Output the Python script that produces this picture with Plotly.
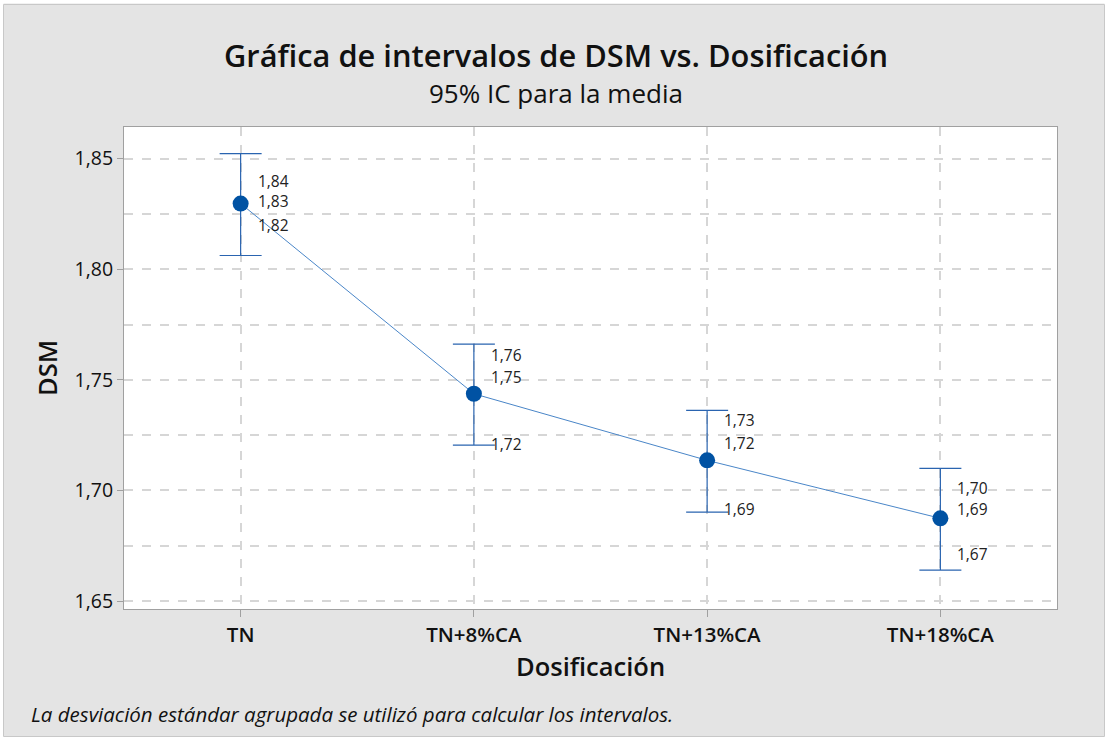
import plotly.graph_objects as go

categories = ["TN", "TN+8%CA", "TN+13%CA", "TN+18%CA"]
means = [1.8297, 1.7437, 1.7136, 1.6874]
upper = [1.8523, 1.7661, 1.7362, 1.7100]
lower = [1.8062, 1.7205, 1.6902, 1.6640]
label_upper = ["1,84", "1,76", "1,73", "1,70"]
label_mean = ["1,83", "1,75", "1,72", "1,69"]
label_lower = ["1,82", "1,72", "1,69", "1,67"]
# vertical offsets (px) of the data labels, as Minitab places them to avoid overlaps
shift_upper = [-27, -11, -10, -20]
shift_mean = [3, 17, 17, 9]
shift_lower = [31, 1, 3, 16]

yticks = [1.65, 1.70, 1.75, 1.80, 1.85]
ytick_text = ["1,65", "1,70", "1,75", "1,80", "1,85"]

FONT = "Open Sans"
W, H = 1108, 740
ML, MR, MT, MB = 124, 51, 127, 131
PW, PH = W - ML - MR, H - MT - MB


def px_x(p):
    return (p - ML) / PW


def px_y(p):
    return (H - MB - p) / PH


x_idx = list(range(len(categories)))

fig = go.Figure()
fig.add_trace(go.Scatter(
    x=x_idx, y=means, mode="lines",
    line=dict(color="#4a86c8", width=1),
    hoverinfo="skip", showlegend=False,
))
fig.add_trace(go.Scatter(
    x=x_idx, y=means, mode="markers",
    marker=dict(color="#0052a3", size=16),
    error_y=dict(type="data", symmetric=False,
                 array=[u - m for u, m in zip(upper, means)],
                 arrayminus=[m - l for m, l in zip(means, lower)],
                 color="#2a64b0", thickness=1.2, width=21),
    showlegend=False,
))

annotations = []
for i in x_idx:
    for val, txt, sh in ((upper[i], label_upper[i], shift_upper[i]),
                         (means[i], label_mean[i], shift_mean[i]),
                         (lower[i], label_lower[i], shift_lower[i])):
        annotations.append(dict(
            x=i, y=val, xref="x", yref="y", text=txt, showarrow=False,
            xanchor="left", yanchor="middle", xshift=15, yshift=sh,
            font=dict(family=FONT, size=15.5, color="#222222"),
        ))

annotations += [
    dict(x=px_x(555.5), y=px_y(55), xref="paper", yref="paper",
         text="Gráfica de intervalos de DSM vs. Dosificación", showarrow=False,
         xanchor="center", yanchor="middle",
         font=dict(family=FONT, size=30.8, color="#111111", weight=600)),
    dict(x=px_x(556), y=px_y(93), xref="paper", yref="paper",
         text="95% IC para la media", showarrow=False,
         xanchor="center", yanchor="middle",
         font=dict(family=FONT, size=26, color="#111111", weight=500)),
    dict(x=px_x(29), y=px_y(714), xref="paper", yref="paper",
         text="<i>La desviación estándar agrupada se utilizó para calcular los intervalos.</i>",
         showarrow=False, xanchor="left", yanchor="middle",
         font=dict(family=FONT, size=20.5, color="#111111")),
    dict(x=px_x(590), y=px_y(666), xref="paper", yref="paper",
         text="Dosificación", showarrow=False,
         xanchor="center", yanchor="middle",
         font=dict(family=FONT, size=25.5, color="#111111", weight=600)),
    dict(x=px_x(47), y=px_y(368), xref="paper", yref="paper",
         text="DSM", showarrow=False, textangle=-90,
         xanchor="center", yanchor="middle",
         font=dict(family=FONT, size=25.5, color="#111111", weight=600)),
]

shapes = [
    dict(type="rect", xref="paper", yref="paper",
         x0=px_x(1.5), x1=px_x(W - 1.5), y0=px_y(H - 1.5), y1=px_y(1.5),
         line=dict(color="#ffffff", width=4), fillcolor="rgba(0,0,0,0)"),
    dict(type="rect", xref="paper", yref="paper",
         x0=px_x(3.5), x1=px_x(W - 3.5), y0=px_y(H - 3.5), y1=px_y(4.5),
         line=dict(color="#c8c8c8", width=1), fillcolor="rgba(0,0,0,0)"),
]

fig.update_layout(
    width=W, height=H,
    margin=dict(l=ML, r=MR, t=MT, b=MB),
    paper_bgcolor="#e4e4e4", plot_bgcolor="#ffffff",
    annotations=annotations, shapes=shapes,
    xaxis=dict(
        range=[-0.5, 3.5], tickmode="array", tickvals=x_idx, ticktext=categories,
        showgrid=True, gridcolor="#d6d6d6", griddash="dash", gridwidth=1.5,
        ticks="outside", ticklen=7, tickcolor="#a0a0a0",
        showline=True, linecolor="#a0a0a0", mirror=True, zeroline=False,
        tickfont=dict(family=FONT, size=20.5, color="#111111", weight=600),
    ),
    yaxis=dict(
        range=[1.6464, 1.8643], tickmode="array", tickvals=yticks, ticktext=ytick_text,
        showgrid=True, gridcolor="#d6d6d6", griddash="dash", gridwidth=1.5,
        minor=dict(dtick=0.025, tick0=1.65, showgrid=True, gridcolor="#d6d6d6",
                   griddash="dash", gridwidth=1.5, ticks=""),
        ticks="outside", ticklen=6, tickcolor="#a0a0a0",
        showline=True, linecolor="#a0a0a0", mirror=True, zeroline=False,
        tickfont=dict(family=FONT, size=19.5, color="#111111"),
    ),
)

fig.write_html("out.html", config={"displayModeBar": False},
               post_script="document.body.style.margin='0';")
